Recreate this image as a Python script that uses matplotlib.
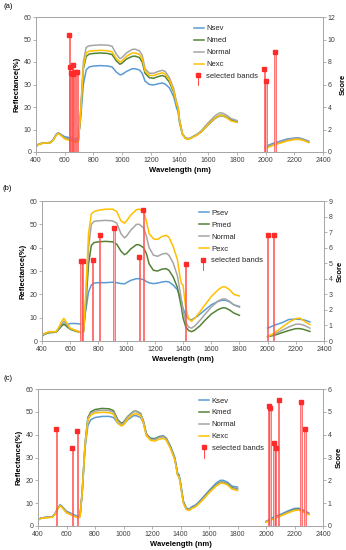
import numpy as np
import matplotlib
matplotlib.use('Agg')
import matplotlib.pyplot as plt
from matplotlib.legend_handler import HandlerBase
from matplotlib.lines import Line2D

plt.rcParams['font.family'] = ['Liberation Sans', 'DejaVu Sans']

# ---------------- wavelengths ----------------
WL1 = [400, 420, 450, 500, 520, 540, 555, 570, 600, 640,
       680, 695, 710, 730, 750, 770, 800, 850, 900, 930,
       960, 985, 1000, 1030, 1070, 1090, 1120, 1140, 1160, 1190,
       1220, 1250, 1280, 1300, 1330, 1360, 1380, 1390, 1400, 1420,
       1440, 1460, 1480, 1500, 1520, 1550, 1600, 1650, 1680, 1700,
       1730, 1760, 1800]
WL2 = [2000, 2050, 2100, 2150, 2200, 2230, 2260, 2300]

# ---------------- panel (a) ----------------
a_names = ['Nsev', 'Nmed', 'Normal', 'Nexc']
a_Nsev = [2.5, 3.5, 4.0, 4.2, 5.5, 7.8, 8.6, 8.0, 6.8, 6.3,
          5.8, 6.0, 14, 30, 36.5, 37.8, 38.2, 38.4, 38.2, 37.8,
          35.5, 34.3, 34.5, 35.8, 37.0, 37.0, 36.5, 35.0, 31.5, 30.0,
          29.8, 30.3, 30.7, 30.2, 28.5, 24.5, 19.5, 18.0, 13.0, 8.0,
          6.3, 5.8, 6.2, 7.0, 7.5, 8.8, 12.0, 15.0, 16.0, 16.0,
          15.3, 14.3, 13.5]
a_Nmed = [2.5, 3.5, 4.0, 4.2, 5.3, 7.5, 8.3, 7.7, 6.2, 5.5,
          4.8, 5.0, 16, 37, 42.5, 43.5, 43.8, 44.0, 43.8, 43.3,
          40.5, 39.0, 39.5, 41.3, 42.5, 42.6, 42.0, 40.0, 35.0, 33.0,
          32.8, 33.5, 34.0, 33.5, 31.0, 26.5, 21.0, 19.5, 14.0, 8.0,
          6.2, 5.8, 6.2, 7.0, 7.6, 9.0, 12.5, 15.2, 16.3, 16.3,
          15.4, 14.0, 13.3]
a_Normal = [2.5, 3.5, 4.0, 4.2, 5.3, 7.6, 8.4, 7.8, 6.2, 5.3,
            4.8, 5.0, 17, 40, 46.5, 47.2, 47.4, 47.6, 47.5, 47.0,
            43.5, 41.5, 42.0, 44.0, 45.6, 45.7, 45.0, 43.0, 37.0, 35.0,
            35.0, 35.8, 36.3, 35.8, 33.0, 28.0, 22.0, 20.0, 14.5, 8.3,
            6.3, 6.0, 6.3, 7.2, 7.8, 9.3, 13.0, 16.2, 17.4, 17.3,
            16.3, 14.8, 14.0]
a_Nexc = [2.4, 3.4, 3.9, 4.1, 5.2, 7.3, 8.2, 7.5, 5.8, 5.0,
          4.3, 4.6, 16, 38, 44.0, 44.8, 45.0, 45.2, 45.0, 44.5,
          41.5, 40.0, 40.5, 42.5, 44.0, 44.0, 43.4, 41.5, 36.0, 34.0,
          34.0, 34.7, 35.2, 34.6, 32.0, 27.0, 21.0, 19.8, 14.0, 8.0,
          6.0, 5.6, 6.1, 6.8, 7.4, 8.8, 12.2, 15.2, 16.2, 16.2,
          15.2, 13.8, 13.2]
a_Nsev2 = [2.5, 3.8, 4.8, 5.8, 6.2, 6.3, 5.8, 4.8]
a_Nmed2 = [1.8, 3.2, 4.2, 5.2, 5.8, 5.9, 5.4, 4.4]
a_Normal2 = [2.0, 3.3, 4.4, 5.4, 6.0, 6.1, 5.6, 4.5]
a_Nexc2 = [1.6, 2.9, 3.9, 4.9, 5.5, 5.6, 5.2, 4.2]
a_band_wl = [632, 634, 646, 655, 660, 673, 687, 1992, 2003, 2066]
a_band_sc = [10.4, 7.6, 7.0, 7.7, 6.9, 7.1, 7.15, 7.35, 6.35, 8.9]

# ---------------- panel (b) ----------------
b_names = ['Psev', 'Pmed', 'Normal', 'Pexc']
b_Psev = [2.5, 3.0, 3.8, 4.0, 5.5, 6.8, 7.2, 6.8, 7.5, 7.5,
          7.2, 7.5, 13, 21, 24.0, 24.8, 25.0, 25.0, 25.2, 25.0,
          24.6, 24.5, 25.0, 26.0, 26.7, 26.7, 26.3, 25.5, 24.9, 24.6,
          24.8, 25.3, 25.5, 25.3, 24.0, 22.0, 19.0, 17.0, 14.0, 11.0,
          9.5, 9.0, 9.8, 10.5, 11.5, 13.0, 15.5, 17.0, 17.5, 17.5,
          16.8, 15.5, 14.8]
b_Pmed = [2.0, 3.0, 3.5, 3.8, 5.0, 6.5, 7.3, 6.5, 5.0, 4.2,
          3.5, 4.0, 15, 33, 41.0, 42.2, 42.5, 42.7, 42.5, 41.5,
          38.5, 37.0, 37.5, 39.5, 41.3, 41.2, 40.0, 37.5, 33.0, 30.3,
          30.0, 30.8, 31.0, 30.3, 27.5, 23.0, 17.0, 14.0, 10.0, 6.0,
          4.5, 4.0, 4.5, 5.5, 6.5, 8.5, 11.5, 13.5, 14.2, 14.2,
          13.3, 12.0, 11.0]
b_Normal = [2.3, 3.2, 3.8, 4.0, 5.5, 7.5, 8.5, 7.5, 5.3, 4.5,
            3.8, 4.2, 18, 40, 50.0, 51.3, 51.5, 51.7, 51.5, 50.5,
            46.0, 44.2, 45.0, 47.5, 50.0, 50.0, 48.5, 45.0, 40.0, 36.8,
            36.3, 37.2, 37.6, 36.8, 33.5, 28.0, 21.0, 17.0, 13.0, 8.0,
            6.0, 5.5, 6.3, 7.5, 8.8, 11.0, 14.5, 17.2, 18.0, 18.0,
            17.0, 15.5, 14.5]
b_Pexc = [2.5, 3.3, 4.0, 4.0, 6.0, 8.5, 9.7, 8.3, 5.5, 4.5,
          3.5, 4.0, 20, 46, 54.5, 55.5, 56.0, 56.5, 56.5, 55.5,
          51.5, 50.5, 51.5, 54.0, 56.3, 56.5, 55.5, 51.5, 46.0, 43.8,
          43.5, 44.8, 45.3, 44.5, 40.5, 35.0, 27.0, 24.5, 24.0, 14.0,
          9.5, 8.5, 9.5, 11.0, 12.5, 15.0, 19.0, 22.0, 23.2, 23.2,
          22.0, 20.0, 19.3]
b_Psev2 = [5.5, 6.8, 7.8, 9.2, 9.4, 9.3, 9.0, 8.2]
b_Pmed2 = [1.8, 2.5, 3.5, 4.5, 5.3, 5.3, 4.9, 4.1]
b_Normal2 = [2.0, 3.0, 4.5, 6.0, 7.2, 7.2, 6.7, 5.5]
b_Pexc2 = [1.8, 3.5, 5.8, 8.0, 9.6, 9.8, 8.5, 7.0]
b_band_wl = [677, 688, 759, 809, 911, 1090, 1118, 1418, 2000, 2043]
b_band_sc = [5.12, 5.12, 5.19, 6.82, 7.25, 5.38, 8.45, 4.93, 6.8, 6.8]

# ---------------- panel (c) ----------------
c_names = ['Ksev', 'Kmed', 'Normal', 'Kexc']
c_Ksev = [2.8, 3.5, 3.8, 4.0, 5.5, 8.0, 9.3, 8.5, 6.5, 5.3,
          4.2, 4.5, 14, 34, 44.0, 46.5, 47.5, 48.0, 48.0, 47.5,
          45.0, 44.0, 44.5, 46.5, 48.3, 48.3, 47.5, 45.0, 40.0, 38.5,
          38.3, 39.2, 39.5, 38.5, 35.0, 30.0, 23.0, 22.5, 19.0, 11.0,
          8.0, 7.3, 8.5, 9.0, 10.0, 12.0, 15.5, 18.8, 20.0, 20.0,
          19.2, 17.5, 17.0]
c_Kmed = [2.7, 3.4, 3.7, 3.9, 5.3, 7.8, 9.0, 8.2, 6.0, 4.8,
          3.8, 4.2, 15, 36, 47.5, 50.0, 51.0, 51.5, 51.3, 50.5,
          46.5, 45.0, 45.5, 48.0, 50.2, 50.3, 49.3, 46.0, 40.5, 38.2,
          38.0, 39.0, 39.3, 38.3, 34.5, 29.5, 22.5, 22.0, 18.5, 10.5,
          7.6, 7.0, 8.0, 8.5, 9.5, 11.5, 15.0, 18.0, 19.2, 19.2,
          18.4, 16.8, 16.2]
c_Normal = [2.7, 3.4, 3.7, 3.9, 5.3, 7.8, 9.0, 8.2, 6.1, 4.9,
            3.9, 4.3, 15, 35.5, 47.0, 49.3, 50.3, 50.7, 50.5, 49.8,
            46.0, 44.5, 45.0, 47.8, 50.0, 50.2, 49.0, 45.8, 40.3, 38.0,
            37.8, 38.8, 39.2, 38.2, 34.3, 29.3, 22.3, 21.8, 18.3, 10.3,
            7.5, 6.9, 7.9, 8.4, 9.4, 11.3, 14.8, 17.8, 19.0, 19.0,
            18.2, 16.5, 16.0]
c_Kexc = [2.6, 3.3, 3.6, 3.8, 5.2, 7.6, 8.8, 8.0, 5.8, 4.6,
          3.6, 4.0, 14.5, 35, 46.5, 48.5, 49.5, 49.8, 49.6, 49.0,
          45.0, 43.8, 44.3, 47.0, 49.0, 49.2, 48.3, 45.0, 39.5, 37.5,
          37.2, 38.0, 38.4, 37.5, 33.8, 29.0, 22.0, 21.5, 18.0, 10.0,
          7.3, 6.8, 7.7, 8.2, 9.2, 11.0, 14.5, 17.5, 18.7, 18.7,
          18.0, 16.2, 15.5]
c_Ksev2 = [2.0, 3.8, 5.0, 6.5, 7.7, 7.8, 7.0, 5.7]
c_Kmed2 = [1.8, 3.3, 4.6, 6.0, 7.2, 7.3, 6.6, 5.3]
c_Normal2 = [1.8, 3.2, 4.5, 5.9, 7.0, 7.1, 6.4, 5.2]
c_Kexc2 = [1.7, 3.0, 4.3, 5.6, 6.8, 6.9, 6.2, 5.0]
c_band_wl = [528, 642, 675, 2018, 2029, 2057, 2067, 2088, 2246, 2274]
c_band_sc = [4.24, 3.40, 4.18, 5.27, 5.16, 3.62, 3.40, 5.50, 5.43, 4.24]

COLORS = ['#5B9BD5', '#548235', '#A5A5A5', '#FFC000']
RED = '#FF2A2A'
PINK = '#FFB3B3'
SPINE = '#A6A6A6'
TICKC = '#404040'


class BandHandler(HandlerBase):
    def create_artists(self, legend, orig_handle, xdescent, ydescent,
                       width, height, fontsize, trans):
        cx = width * 0.45 - xdescent
        y0 = height * 0.55 - ydescent
        y1 = y0 - height * 1.9
        ln = Line2D([cx, cx], [y0, y1], color=RED, lw=0.6, transform=trans)
        mk = Line2D([cx], [y0], marker='s', ms=2.2, color=RED, lw=0,
                    transform=trans)
        return [ln, mk]


fig = plt.figure(figsize=(3.46, 5.5), dpi=100)


def panel(rect, tag, tagpos, names, seg1, seg2, bwl, bsc, smax, sstep, leg_anchor):
    ax = fig.add_axes(rect)
    handles = []
    for name, col, s1, s2 in zip(names, COLORS, seg1, seg2):
        h, = ax.plot(WL1, s1, color=col, lw=1.1, solid_joinstyle='round')
        ax.plot(WL2, s2, color=col, lw=1.1, solid_joinstyle='round')
        handles.append(h)
    ax.set_xlim(400, 2400)
    ax.set_ylim(0, 60)
    ax.set_xticks(range(400, 2401, 200))
    ax.set_yticks(range(0, 61, 10))
    ax.set_xlabel('Wavelength (nm)', fontsize=5.5, fontweight='bold', labelpad=2)
    ax.set_ylabel('Reflectance(%)', fontsize=5.5, fontweight='bold', labelpad=2)

    ax2 = ax.twinx()
    ax2.set_ylim(0, smax)
    ax2.set_yticks(np.arange(0, smax + 0.01, sstep))
    ax2.set_yticklabels([str(int(v)) for v in np.arange(0, smax + 0.01, sstep)])
    ax2.bar(bwl, bsc, width=9, color=PINK, edgecolor=RED, linewidth=0.4, zorder=2)
    ax2.plot(bwl, bsc, 's', color=RED, ms=2.2, zorder=3)
    ax2.set_ylabel('Score', fontsize=5.5, fontweight='bold', labelpad=3)

    for a in (ax, ax2):
        for s in a.spines.values():
            s.set_color(SPINE)
            s.set_linewidth(0.7)
        a.tick_params(labelsize=5, colors=SPINE, labelcolor=TICKC,
                      length=2, width=0.6, pad=1.5)

    dummy = Line2D([], [], color=RED)
    leg = ax2.legend(handles + [dummy], names + ['selected bands'],
                     handler_map={dummy: BandHandler()},
                     loc='upper left', bbox_to_anchor=leg_anchor,
                     frameon=False, fontsize=5.5, handlelength=1.35,
                     handletextpad=0.3, labelspacing=0.6, borderpad=0,
                     borderaxespad=0)
    for t in leg.get_texts():
        t.set_color('#262626')
    fig.text(tagpos[0] / 346, 1 - tagpos[1] / 550, tag, fontsize=5.5,
             ha='left', va='center')
    return ax, ax2


panel([36 / 346, 1 - 152 / 550, 287 / 346, 135 / 550], '(a)', (4, 6),
      a_names, [a_Nsev, a_Nmed, a_Normal, a_Nexc],
      [a_Nsev2, a_Nmed2, a_Normal2, a_Nexc2],
      a_band_wl, a_band_sc, 12, 2, (0.55, 0.94))
panel([42 / 346, 1 - 341 / 550, 282 / 346, 140 / 550], '(b)', (3, 189),
      b_names, [b_Psev, b_Pmed, b_Normal, b_Pexc],
      [b_Psev2, b_Pmed2, b_Normal2, b_Pexc2],
      b_band_wl, b_band_sc, 9, 1, (0.555, 0.94))
panel([38 / 346, 1 - 526 / 550, 285 / 346, 137 / 550], '(c)', (4, 379),
      c_names, [c_Ksev, c_Kmed, c_Normal, c_Kexc],
      [c_Ksev2, c_Kmed2, c_Normal2, c_Kexc2],
      c_band_wl, c_band_sc, 6, 1, (0.565, 0.94))

fig.savefig('out.png', dpi=100)
